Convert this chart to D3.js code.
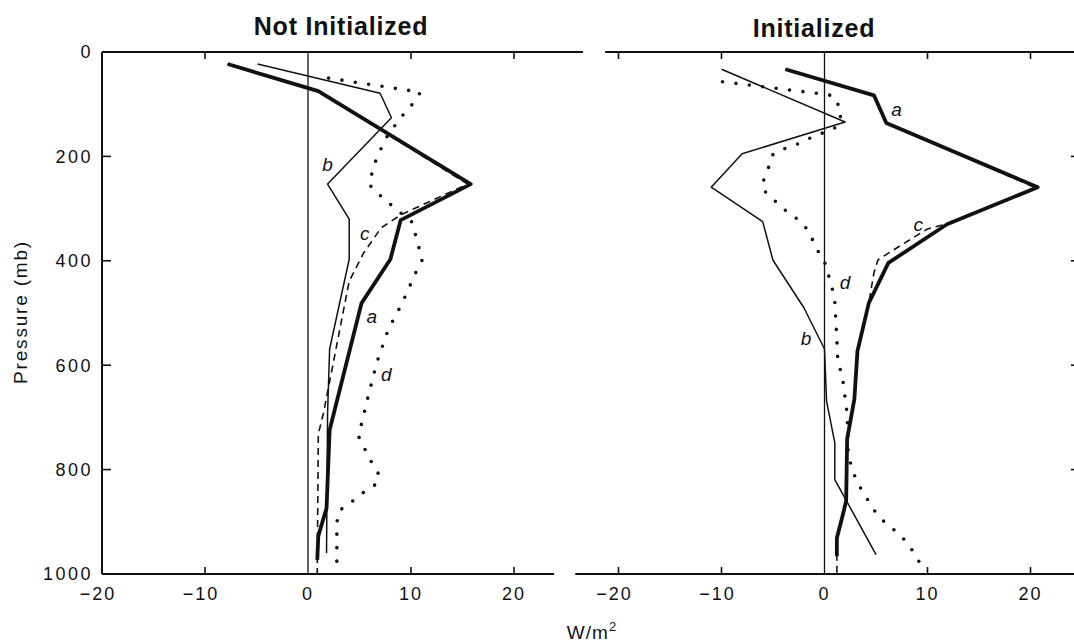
<!DOCTYPE html>
<html>
<head>
<meta charset="utf-8">
<script src="https://cdn.jsdelivr.net/npm/d3@7"></script>
<style>
  body { margin: 0; background: #fff; }
  svg { display: block; }
  text { font-family: "Liberation Sans", Arial, sans-serif; fill: #111; }
</style>
</head>
<body>
<svg id="chart" width="1074" height="643"></svg>
<script>
// Axis ticks
const pressureTicks = [0, 200, 400, 600, 800, 1000];
const fluxTicks = [-20, -10, 0, 10, 20];

// Curves, [W/m2, mb] pairs
// Not Initialized
const leftA = [[-7.8, 23], [1.0, 75], [15.8, 253], [9.0, 322], [8.0, 397], [5.2, 481],
  [2.1, 724], [1.8, 874], [1.0, 927], [0.9, 973]];
const leftB = [[-4.9, 23], [7.0, 79], [8.1, 126], [1.9, 253], [4.0, 320], [4.0, 397],
  [2.1, 569], [1.9, 693], [1.8, 960]];
const leftC = [[-7.8, 23], [1.0, 75], [15.5, 253], [9.0, 312], [7.1, 337], [5.4, 385],
  [4.0, 439], [1.5, 692], [1.0, 732], [0.9, 1000]];
const leftD = [[2.0, 50], [10.9, 77], [10.4, 94], [8.9, 128], [7.5, 167], [6.6, 207],
  [5.9, 253], [6.6, 268], [7.7, 287], [8.8, 305], [10.1, 326], [10.8, 377], [11.1, 398],
  [10.5, 421], [9.1, 483], [7.8, 531], [6.7, 594], [5.9, 655], [4.9, 736], [6.0, 780],
  [6.9, 810], [6.6, 828], [5.3, 845], [4.1, 864], [3.0, 879], [2.8, 902], [2.8, 1000]];

// Initialized
const rightA = [[-3.8, 33], [4.8, 83], [6.0, 136], [20.7, 259], [11.9, 330], [6.2, 404],
  [4.3, 481], [3.2, 573], [2.9, 665], [2.2, 741], [2.1, 860], [1.8, 885], [1.2, 931], [1.2, 966]];
const rightB = [[-10.0, 33], [2.0, 134], [-8.0, 195], [-11.0, 259], [-6.0, 325], [-5.0, 399],
  [-2.0, 490], [0.0, 569], [0.2, 669], [1.0, 749], [1.0, 819], [5.0, 963]];
const rightC = [[-3.8, 33], [4.8, 83], [6.0, 136], [20.4, 259], [19.1, 272], [11.7, 330],
  [10.0, 339], [7.6, 368], [5.2, 398], [4.8, 423], [4.3, 481], [3.2, 573], [2.9, 665],
  [2.2, 741], [2.1, 860], [1.8, 885], [1.2, 931], [1.2, 1000]];
const rightD = [[-9.9, 57], [0.4, 82], [1.0, 86], [1.3, 100], [1.7, 115], [1.2, 144],
  [-1.4, 165], [-2.8, 178], [-4.0, 186], [-5.0, 196], [-5.3, 215], [-5.7, 234], [-6.1, 257],
  [-5.6, 272], [-4.7, 287], [-3.7, 305], [-2.5, 322], [-1.7, 339], [-1.2, 358], [-0.7, 379],
  [0.0, 402], [0.7, 448], [1.0, 479], [1.2, 550], [1.3, 596], [1.7, 617], [1.9, 646],
  [2.2, 693], [2.3, 770], [2.6, 793], [3.0, 816], [3.5, 835], [4.2, 858], [5.0, 883],
  [5.8, 900], [6.9, 918], [8.0, 939], [8.7, 960], [9.2, 977], [9.7, 998]];

// Curve letters [name, W/m2, mb]
const leftLabels = [["b", 1.9, 215], ["c", 5.5, 347], ["a", 6.2, 506], ["d", 7.6, 617]];
const rightLabels = [["a", 7.0, 109], ["c", 9.1, 330], ["d", 2.0, 441], ["b", -1.8, 548]];

const svg = d3.select("#chart");

const y = d3.scaleLinear().domain([0, 1000]).range([52, 574]);
const xL = d3.scaleLinear().domain([-20, 20]).range([102, 514]);
const xR = d3.scaleLinear().domain([-20, 20]).range([618.5, 1030.5]);

const styles = {
  a: { width: 3.8, dash: null },
  b: { width: 1.5, dash: null },
  c: { width: 1.6, dash: "7,5" },
  d: { width: 3.6, dash: "0,13.5" }
};

function drawPanel(x, curves, labels, opts) {
  const g = svg.append("g");
  const y0 = y(0), y1 = y(1000);

  // frame lines
  g.append("line").attr("x1", x(opts.topFrom)).attr("x2", x(opts.topTo))
    .attr("y1", y0).attr("y2", y0).attr("stroke", "#111").attr("stroke-width", 2);
  g.append("line").attr("x1", x(opts.botFrom)).attr("x2", x(opts.botTo))
    .attr("y1", y1).attr("y2", y1).attr("stroke", "#111").attr("stroke-width", 2);
  g.append("line").attr("x1", x(opts.side)).attr("x2", x(opts.side))
    .attr("y1", y0).attr("y2", y1).attr("stroke", "#111").attr("stroke-width", 2);

  // zero line
  g.append("line").attr("x1", x(0)).attr("x2", x(0))
    .attr("y1", y0).attr("y2", y1).attr("stroke", "#111").attr("stroke-width", 1.3);

  // ticks on top and bottom
  const xt = fluxTicks.filter(d => d !== 0 && opts.xTicks.includes(d));
  g.selectAll(".tt").data(xt).join("line")
    .attr("x1", d => x(d)).attr("x2", d => x(d))
    .attr("y1", y0).attr("y2", y0 + 7).attr("stroke", "#111").attr("stroke-width", 1.6);
  g.selectAll(".bt").data(xt).join("line")
    .attr("x1", d => x(d)).attr("x2", d => x(d))
    .attr("y1", y1).attr("y2", y1 - 7).attr("stroke", "#111").attr("stroke-width", 1.6);

  // side ticks
  const dir = opts.sideDir;
  g.selectAll(".st").data(pressureTicks.slice(1, -1)).join("line")
    .attr("x1", x(opts.side)).attr("x2", x(opts.side) + dir * 9)
    .attr("y1", d => y(d)).attr("y2", d => y(d)).attr("stroke", "#111").attr("stroke-width", 1.6);

  // x tick labels
  g.selectAll(".xl").data(fluxTicks).join("text")
    .attr("x", d => x(d) - (d < 0 ? 4 : 0)).attr("y", 600)
    .attr("text-anchor", "middle").attr("font-size", 18)
    .style("letter-spacing", "2px")
    .text(d => d < 0 ? "\u2212" + Math.abs(d) : d);

  // curves
  const line = d3.line().x(d => x(d[0])).y(d => y(d[1]));
  curves.forEach(([key, data]) => {
    const s = styles[key];
    g.append("path").attr("d", line(data))
      .attr("fill", "none").attr("stroke", "#111")
      .attr("stroke-width", s.width)
      .attr("stroke-linejoin", "round")
      .attr("stroke-linecap", key === "d" ? "round" : "butt")
      .attr("stroke-dasharray", s.dash);
  });

  // curve letters
  g.selectAll(".lab").data(labels).join("text")
    .attr("x", d => x(d[1])).attr("y", d => y(d[2]))
    .attr("dy", "0.35em").attr("text-anchor", "middle")
    .attr("font-size", 19).attr("font-style", "italic")
    .text(d => d[0]);

  // title
  g.append("text").attr("x", opts.titleX).attr("y", opts.titleY)
    .attr("text-anchor", "middle").attr("font-size", 25).attr("font-weight", "bold")
    .style("letter-spacing", "0.8px")
    .text(opts.title);
}

drawPanel(xL, [["c", leftC], ["b", leftB], ["d", leftD], ["a", leftA]], leftLabels, {
  topFrom: -20, topTo: 26.7, botFrom: -20, botTo: 23.9, side: -20, sideDir: 1,
  xTicks: [-10, 10, 20], title: "Not Initialized", titleX: 341, titleY: 35
});

drawPanel(xR, [["c", rightC], ["b", rightB], ["d", rightD], ["a", rightA]], rightLabels, {
  topFrom: -21.3, topTo: 26, botFrom: -24.2, botTo: 26, side: 24.8, sideDir: -1,
  xTicks: [-20, -10, 10, 20], title: "Initialized", titleX: 814, titleY: 37
});

// y tick labels
svg.selectAll(".yl").data(pressureTicks).join("text")
  .attr("x", 93).attr("y", d => y(d)).attr("dy", "0.35em")
  .attr("text-anchor", "end").attr("font-size", 18)
  .style("letter-spacing", "2.5px")
  .text(d => d);

// axis titles
svg.append("text")
  .attr("transform", "translate(27,312) rotate(-90)")
  .attr("text-anchor", "middle").attr("font-size", 19)
  .style("letter-spacing", "1.8px")
  .text("Pressure (mb)");

const wl = svg.append("text").attr("x", 592).attr("y", 639)
  .attr("text-anchor", "middle").attr("font-size", 19).style("letter-spacing", "1px");
wl.append("tspan").text("W/m");
wl.append("tspan").attr("font-size", 13).attr("dy", -8).text("2");
</script>
</body>
</html>
